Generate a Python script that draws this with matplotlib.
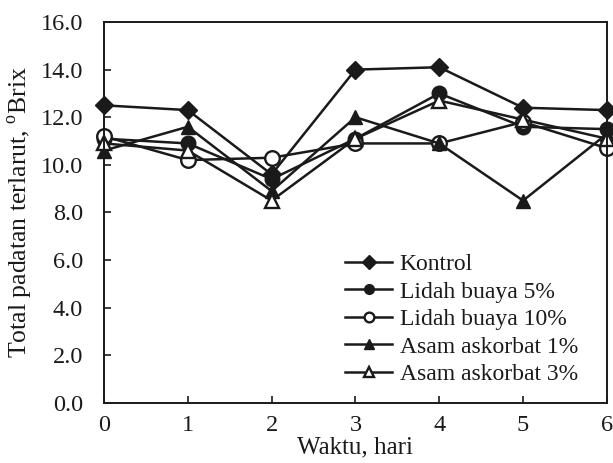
import matplotlib
matplotlib.use("Agg")
import matplotlib.pyplot as plt
from matplotlib.ticker import FormatStrFormatter

plt.rcParams['font.family'] = ['Liberation Serif', 'DejaVu Serif']
plt.rcParams['mathtext.fontset'] = 'custom'
plt.rcParams['mathtext.rm'] = 'Liberation Serif'

days = [0, 1, 2, 3, 4, 5, 6]
kontrol = [12.5, 12.3, 9.6, 14.0, 14.1, 12.4, 12.3]
lidah5 = [11.1, 10.9, 9.4, 11.1, 13.0, 11.6, 11.5]
lidah10 = [11.2, 10.2, 10.3, 10.9, 10.9, 11.8, 10.7]
asam1 = [10.6, 11.6, 8.9, 12.0, 10.9, 8.5, 11.3]
asam3 = [10.9, 10.6, 8.5, 11.1, 12.7, 11.9, 11.1]

labels = ["Kontrol", "Lidah buaya 5%", "Lidah buaya 10%", "Asam askorbat 1%", "Asam askorbat 3%"]
yticks = [0, 2, 4, 6, 8, 10, 12, 14, 16]

fig = plt.figure(figsize=(6.13, 4.63), dpi=100)
ax = fig.add_axes([0.1697, 0.1296, 0.8203, 0.8229])

c = '#1a1a1a'
common = dict(color=c, lw=1.8, mec=c, clip_on=False)
ax.plot(days, kontrol, marker='D', ms=9, mfc=c, label=labels[0], **common)
ax.plot(days, lidah5, marker='o', ms=10.5, mfc=c, label=labels[1], **common)
ax.plot(days, lidah10, marker='o', ms=10.5, mfc='white', mew=1.7, label=labels[2], **common)
ax.plot(days, asam1, marker='^', ms=10.5, mfc=c, label=labels[3], **common)
ax.plot(days, asam3, marker='^', ms=10.5, mfc='white', mew=1.7, label=labels[4], **common)

ax.set_xlim(0, 6)
ax.set_ylim(0, 16)
ax.set_xticks(days)
ax.set_yticks(yticks)
ax.yaxis.set_major_formatter(FormatStrFormatter('%.1f'))
ax.tick_params(direction='in', length=5, width=1.2, labelsize=17.5, colors=c, labelcolor=c)
ax.tick_params(axis='y', pad=15)
ax.tick_params(axis='x', pad=9)
for s in ax.spines.values():
    s.set_linewidth(1.4)
    s.set_color(c)

ax.set_xlabel("Waktu, hari", fontsize=18, labelpad=0, color=c)
ax.set_ylabel("Total padatan terlarut, $^{\\mathrm{o}}$Brix", fontsize=18.5, labelpad=4, color=c)

leg = ax.legend(loc='lower right', bbox_to_anchor=(0.975, 0.004), frameon=False, fontsize=17,
                handlelength=2.0, handletextpad=0.3, labelspacing=0.25, borderpad=0.2)
for t in leg.get_texts():
    t.set_color(c)
for h in leg.legend_handles:
    h.set_markersize(7)

fig.savefig("out.png", dpi=100)
